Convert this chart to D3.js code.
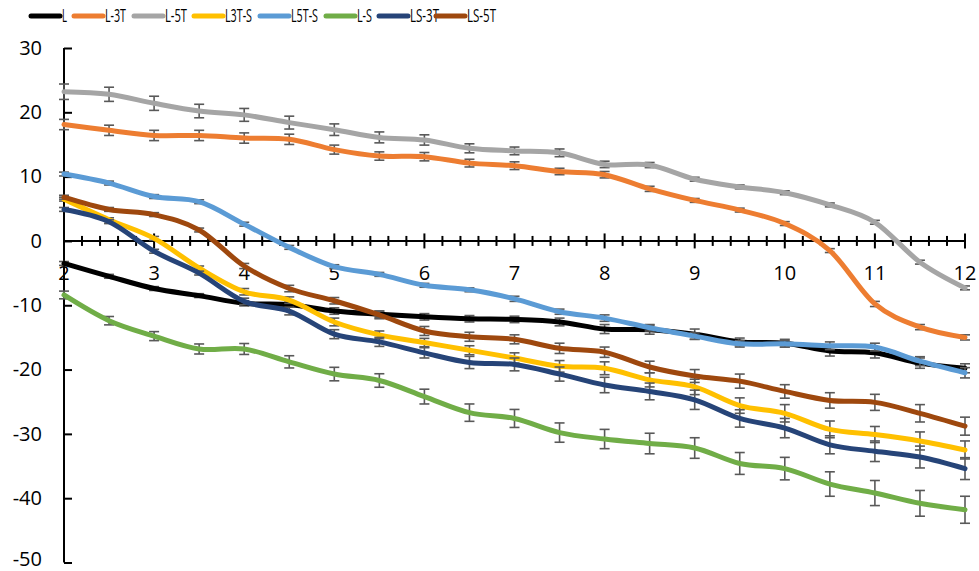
<!DOCTYPE html>
<html>
<head>
<meta charset="utf-8">
<script src="https://cdn.jsdelivr.net/npm/d3@7"></script>
<style>
  html, body { margin: 0; padding: 0; background: #fff; }
  svg { display: block; }
</style>
</head>
<body>
<svg id="chart" width="979" height="571"></svg>
<script>
// ---- data ----
const xValues = [2, 2.5, 3, 3.5, 4, 4.5, 5, 5.5, 6, 6.5, 7, 7.5, 8, 8.5, 9, 9.5, 10, 10.5, 11, 11.5, 12];
const seriesNames = ["L", "L-3T", "L-5T", "L3T-S", "L5T-S", "L-S", "LS-3T", "LS-5T"];
const seriesColors = ["#000000", "#ED7D31", "#A5A5A5", "#FFC000", "#5B9BD5", "#70AD47", "#264478", "#9E480E"];

const valL    = [-3.5, -5.5, -7.4, -8.5, -9.7, -9.9, -10.9, -11.4, -11.8, -12.1, -12.2, -12.6, -13.7, -13.8, -14.5, -15.7, -15.9, -17.1, -17.4, -19.0, -19.8];
const valL3T  = [18.1, 17.2, 16.4, 16.4, 16.0, 15.8, 14.2, 13.2, 13.1, 12.1, 11.7, 10.8, 10.3, 8.1, 6.3, 4.8, 2.7, -1.5, -9.8, -13.4, -15.0];
const valL5T  = [23.2, 22.8, 21.4, 20.2, 19.6, 18.4, 17.3, 16.1, 15.7, 14.4, 14.0, 13.7, 11.9, 11.8, 9.6, 8.4, 7.5, 5.6, 2.9, -3.3, -7.3];
const valL3TS = [6.5, 3.3, 0.4, -4.2, -7.9, -9.2, -12.6, -14.6, -15.8, -17.0, -18.2, -19.5, -19.8, -21.6, -22.7, -25.6, -26.8, -29.3, -30.1, -31.1, -32.5];
const valL5TS = [10.4, 9.0, 6.9, 6.1, 2.6, -1.0, -4.0, -5.2, -6.9, -7.6, -9.0, -11.0, -12.0, -13.5, -14.8, -16.0, -16.0, -16.3, -16.5, -18.7, -20.5];
const valLS   = [-8.4, -12.4, -14.8, -16.8, -16.8, -18.8, -20.7, -21.7, -24.2, -26.7, -27.6, -29.8, -30.8, -31.5, -32.2, -34.6, -35.4, -37.8, -39.2, -40.8, -41.8];
const valLS3T = [4.9, 3.0, -1.6, -5.0, -9.4, -10.9, -14.5, -15.7, -17.4, -18.9, -19.2, -20.7, -22.4, -23.4, -24.7, -27.6, -29.1, -31.7, -32.7, -33.6, -35.4];
const valLS5T = [6.8, 4.9, 4.1, 1.7, -3.9, -7.4, -9.3, -11.5, -14.0, -14.9, -15.3, -16.7, -17.3, -19.6, -21.0, -21.8, -23.4, -24.8, -25.1, -26.8, -28.8];

const errL    = [0.3, 0.3, 0.3, 0.3, 0.4, 0.4, 0.5, 0.5, 0.5, 0.5, 0.5, 0.6, 0.7, 0.7, 0.8, 0.6, 0.6, 0.8, 0.8, 0.8, 0.7];
const errL3T  = [0.8, 0.8, 0.8, 0.8, 0.8, 0.8, 0.7, 0.65, 0.65, 0.6, 0.6, 0.5, 0.5, 0.4, 0.3, 0.3, 0.3, 0.3, 0.4, 0.4, 0.4];
const errL5T  = [1.2, 1.1, 1.1, 1.05, 1.0, 1.0, 0.9, 0.85, 0.8, 0.7, 0.6, 0.6, 0.5, 0.4, 0.3, 0.3, 0.3, 0.3, 0.3, 0.3, 0.3];
const errL3TS = [0.3, 0.3, 0.3, 0.3, 0.5, 0.5, 0.6, 0.6, 0.65, 0.7, 0.8, 0.9, 1.0, 1.1, 1.2, 1.2, 1.35, 1.3, 1.25, 1.4, 1.4];
const errL5TS = [0.3, 0.3, 0.3, 0.3, 0.3, 0.3, 0.3, 0.3, 0.3, 0.3, 0.4, 0.4, 0.5, 0.5, 0.5, 0.5, 0.5, 0.6, 0.6, 0.7, 0.8];
const errLS   = [0.6, 0.65, 0.7, 0.78, 0.85, 0.95, 1.05, 1.05, 1.15, 1.35, 1.4, 1.5, 1.5, 1.6, 1.6, 1.7, 1.75, 1.9, 1.95, 2.0, 2.1];
const errLS3T = [0.3, 0.3, 0.3, 0.3, 0.5, 0.6, 0.7, 0.7, 0.8, 0.95, 1.0, 1.1, 1.2, 1.3, 1.5, 1.35, 1.5, 1.4, 1.6, 1.7, 1.7];
const errLS5T = [0.3, 0.3, 0.3, 0.3, 0.4, 0.5, 0.5, 0.6, 0.7, 0.7, 0.7, 0.8, 0.8, 0.9, 1.0, 1.1, 1.05, 1.2, 1.25, 1.35, 1.4];

const yTicks = [30, 20, 10, 0, -10, -20, -30, -40, -50];
const xTickLabels = [2, 3, 4, 5, 6, 7, 8, 9, 10, 11, 12];

const seriesValues = [valL, valL3T, valL5T, valL3TS, valL5TS, valLS, valLS3T, valLS5T];
const seriesErrors = [errL, errL3T, errL5T, errL3TS, errL5TS, errLS, errLS3T, errLS5T];

// ---- chart ----
const svg = d3.select("#chart");
const x = d3.scaleLinear().domain([2, 12]).range([64, 965]);
const y = d3.scaleLinear().domain([-50, 30]).range([562.5, 48]);
const FONT = "'Open Sans', 'Liberation Sans', sans-serif";

const series = seriesNames.map((name, i) => ({
  name, color: seriesColors[i],
  points: xValues.map((xv, j) => ({ x: xv, y: seriesValues[i][j], e: seriesErrors[i][j] }))
}));

// y axis (ticks inside, to the right)
const yAxis = d3.axisRight(y).tickValues(yTicks).tickSize(8).tickFormat("");
const yG = svg.append("g").attr("transform", `translate(${x(2)},0)`).call(yAxis);
yG.select(".domain").attr("stroke", "#000").attr("stroke-width", 2).attr("d", `M0,${y(30)}V${y(-50)}`);
yG.selectAll(".tick line").attr("stroke", "#000").attr("stroke-width", 2);

svg.append("g").selectAll("text").data(yTicks).join("text")
  .attr("x", 42).attr("y", d => Math.min(y(d), 559)).attr("dy", "0.34em")
  .attr("text-anchor", "end")
  .attr("font-family", FONT).attr("font-size", 20).attr("fill", "#000")
  .text(d => d);

// x axis at y = 0, crossing ticks
const minorTicks = d3.range(2, 12.0001, 0.2).map(v => +v.toFixed(1));
const xAxisG = svg.append("g").attr("transform", `translate(0,${y(0)})`);
xAxisG.append("line").attr("x1", x(2)).attr("x2", x(12)).attr("y1", 0).attr("y2", 0)
  .attr("stroke", "#000").attr("stroke-width", 2);
xAxisG.selectAll("line.tk").data(minorTicks).join("line").attr("class", "tk")
  .attr("x1", d => x(d)).attr("x2", d => x(d))
  .attr("y1", d => Math.abs(d - Math.round(d)) < 1e-6 ? -7.5 : -5)
  .attr("y2", d => Math.abs(d - Math.round(d)) < 1e-6 ? 7.5 : 5)
  .attr("stroke", "#000").attr("stroke-width", 2);
svg.append("g").selectAll("text").data(xTickLabels).join("text")
  .attr("x", d => x(d)).attr("y", y(0) + 32).attr("dy", "0.36em")
  .attr("text-anchor", "middle")
  .attr("font-family", FONT).attr("font-size", 20).attr("fill", "#000")
  .text(d => d);

// series: error bars then line, in order
const line = d3.line().x(d => x(d.x)).y(d => y(d.y)).curve(d3.curveCardinal.tension(0));
series.forEach(s => {
  const g = svg.append("g");
  const eb = g.append("g").attr("stroke", "#595959").attr("stroke-width", 1.6);
  eb.selectAll("line.v").data(s.points).join("line").attr("class", "v")
    .attr("x1", d => x(d.x)).attr("x2", d => x(d.x))
    .attr("y1", d => y(d.y + d.e)).attr("y2", d => y(d.y - d.e));
  eb.selectAll("line.t").data(s.points).join("line").attr("class", "t")
    .attr("x1", d => x(d.x) - 5).attr("x2", d => x(d.x) + 5)
    .attr("y1", d => y(d.y + d.e)).attr("y2", d => y(d.y + d.e));
  eb.selectAll("line.b").data(s.points).join("line").attr("class", "b")
    .attr("x1", d => x(d.x) - 5).attr("x2", d => x(d.x) + 5)
    .attr("y1", d => y(d.y - d.e)).attr("y2", d => y(d.y - d.e));
  g.append("path").datum(s.points).attr("d", line)
    .attr("fill", "none").attr("stroke", s.color).attr("stroke-width", 5)
    .attr("stroke-linejoin", "round").attr("stroke-linecap", "round");
});

// legend
const legendX = [31, 74, 134, 194, 260, 326, 379, 436];
const legendTextW = [5, 21, 22, 27, 27, 15, 29, 29];
const lg = svg.append("g");
series.forEach((s, i) => {
  lg.append("line").attr("x1", legendX[i]).attr("x2", legendX[i] + 29)
    .attr("y1", 16).attr("y2", 16)
    .attr("stroke", s.color).attr("stroke-width", 5).attr("stroke-linecap", "round");
  lg.append("text").attr("x", legendX[i] + 31).attr("y", 16).attr("dy", "0.36em")
    .attr("font-family", FONT).attr("font-size", 18).attr("fill", "#000")
    .attr("textLength", legendTextW[i]).attr("lengthAdjust", "spacingAndGlyphs")
    .text(s.name);
});
</script>
</body>
</html>
